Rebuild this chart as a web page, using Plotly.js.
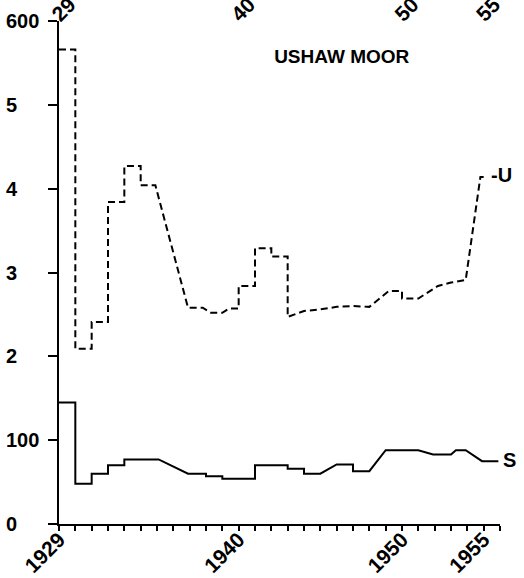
<!DOCTYPE html>
<html><head><meta charset="utf-8">
<script src="https://cdn.plot.ly/plotly-3.0.1.min.js"></script>
<style>html,body{margin:0;padding:0;background:#fff;overflow:hidden}</style>
</head><body><div id="chart" style="width:524px;height:578px"></div>
<script>
// U series (dashed) vertices: year, value
const uYears  = [1929, 1930, 1930, 1931, 1931, 1932, 1932, 1933, 1933, 1934, 1934, 1934.9, 1936.9, 1937.8, 1938.3, 1939.0, 1939.4, 1940, 1940, 1941, 1941, 1942, 1942, 1943, 1943, 1944, 1945, 1946, 1947, 1948, 1949.2, 1950, 1950, 1951, 1952.2, 1953, 1953.9, 1954.8, 1955];
const uValues = [566, 566, 209, 209, 241, 241, 384, 384, 427, 427, 404, 404, 258, 258, 252, 252, 257, 257, 284, 284, 329, 329, 319, 319, 247, 254, 256, 259, 260, 259, 278, 278, 269, 269, 284, 288, 291, 414, 414];
// S series (solid) vertices: year, value
const sYears  = [1929, 1930, 1930, 1931, 1931, 1932, 1932, 1933, 1933, 1935.1, 1936.9, 1938, 1938, 1939, 1939, 1941, 1941, 1943, 1943, 1944, 1944, 1945, 1946, 1947, 1947, 1948, 1949, 1951, 1951.9, 1953, 1953.3, 1953.9, 1954.9, 1955.9];
const sValues = [145, 145, 48, 48, 60, 60, 70, 70, 77, 77, 60, 60, 57, 57, 54, 54, 70, 70, 66, 66, 60, 60, 71, 71, 63, 63, 88, 88, 83, 83, 88, 88, 75, 75];

const yTickValues = [0, 100, 200, 300, 400, 500, 600];
const yTickLabels = ['0', '100', '2', '3', '4', '5', '600'];
const xLabelYears = [1929, 1940, 1950, 1955];
const xBottomLabels = ['1929', '1940', '1950', '1955'];
const xTopLabels = ['29', '40', '50', '55'];
const titleText = 'USHAW MOOR';
const uLabel = '-U';
const sLabel = 'S';

const firstYear = 1929, lastYear = 1956;
const tickYears = [], tickTexts = [];
for (let y = firstYear; y <= lastYear; y++) {
  tickYears.push(y);
  const i = xLabelYears.indexOf(y);
  tickTexts.push(i >= 0 ? xBottomLabels[i] : '');
}

const FONT = {family: 'Liberation Sans, Arial, sans-serif', size: 20, color: '#000', weight: 'bold'};
const XFONT = {family: 'Liberation Sans, Arial, sans-serif', size: 21, color: '#000', weight: 'bold'};

const traces = [
  {x: uYears, y: uValues, mode: 'lines', line: {color: '#000', width: 2, dash: '7px,4px'}, showlegend: false, hoverinfo: 'skip'},
  {x: sYears, y: sValues, mode: 'lines', line: {color: '#000', width: 2}, showlegend: false, hoverinfo: 'skip'},
  {x: [], y: [], xaxis: 'x2', yaxis: 'y', mode: 'lines', showlegend: false}
];

const annotations = yTickValues.map((v, i) => ({
  xref: 'paper', yref: 'y', x: (4 - 59) / 441, y: v, text: yTickLabels[i],
  xanchor: 'left', yanchor: 'middle', showarrow: false, font: FONT
}));
annotations.push({xref: 'paper', yref: 'y', x: (489 - 59) / 441, y: 416, text: uLabel, xanchor: 'left', yanchor: 'middle', showarrow: false, font: FONT});
annotations.push({xref: 'paper', yref: 'y', x: (501 - 59) / 441, y: 76, text: sLabel, xanchor: 'left', yanchor: 'middle', showarrow: false, font: FONT});

const layout = {
  width: 524, height: 578,
  margin: {l: 59, r: 24, t: 21, b: 54},
  paper_bgcolor: '#fff', plot_bgcolor: '#fff',
  title: {text: titleText, x: 341.7 / 524, y: 1 - 56 / 578, xanchor: 'center', yanchor: 'middle',
          font: {family: FONT.family, size: 19, color: '#000', weight: 'bold'}},
  xaxis: {
    range: [firstYear, lastYear], showline: true, linewidth: 2, linecolor: '#000',
    ticks: 'outside', ticklen: 5, tickwidth: 2, tickcolor: '#000',
    tickmode: 'array', tickvals: tickYears, ticktext: tickTexts, tickangle: -45,
    ticklabelstandoff: -12,
    tickfont: XFONT, showgrid: false, zeroline: false
  },
  xaxis2: {
    overlaying: 'x', side: 'top', anchor: 'y', range: [firstYear, lastYear],
    showline: false, ticks: '', tickmode: 'array', tickvals: xLabelYears, ticktext: xTopLabels,
    tickangle: -45, ticklabelstandoff: -10, ticklabelshift: -6, tickfont: XFONT, showgrid: false, zeroline: false
  },
  yaxis: {
    range: [0, 600], showline: true, linewidth: 2, linecolor: '#000',
    ticks: 'outside', ticklen: 9, tickwidth: 2, tickcolor: '#000',
    tickmode: 'array', tickvals: yTickValues, showticklabels: false,
    showgrid: false, zeroline: false
  },
  annotations: annotations
};

Plotly.newPlot('chart', traces, layout, {staticPlot: true, displayModeBar: false});
</script>
</body></html>
